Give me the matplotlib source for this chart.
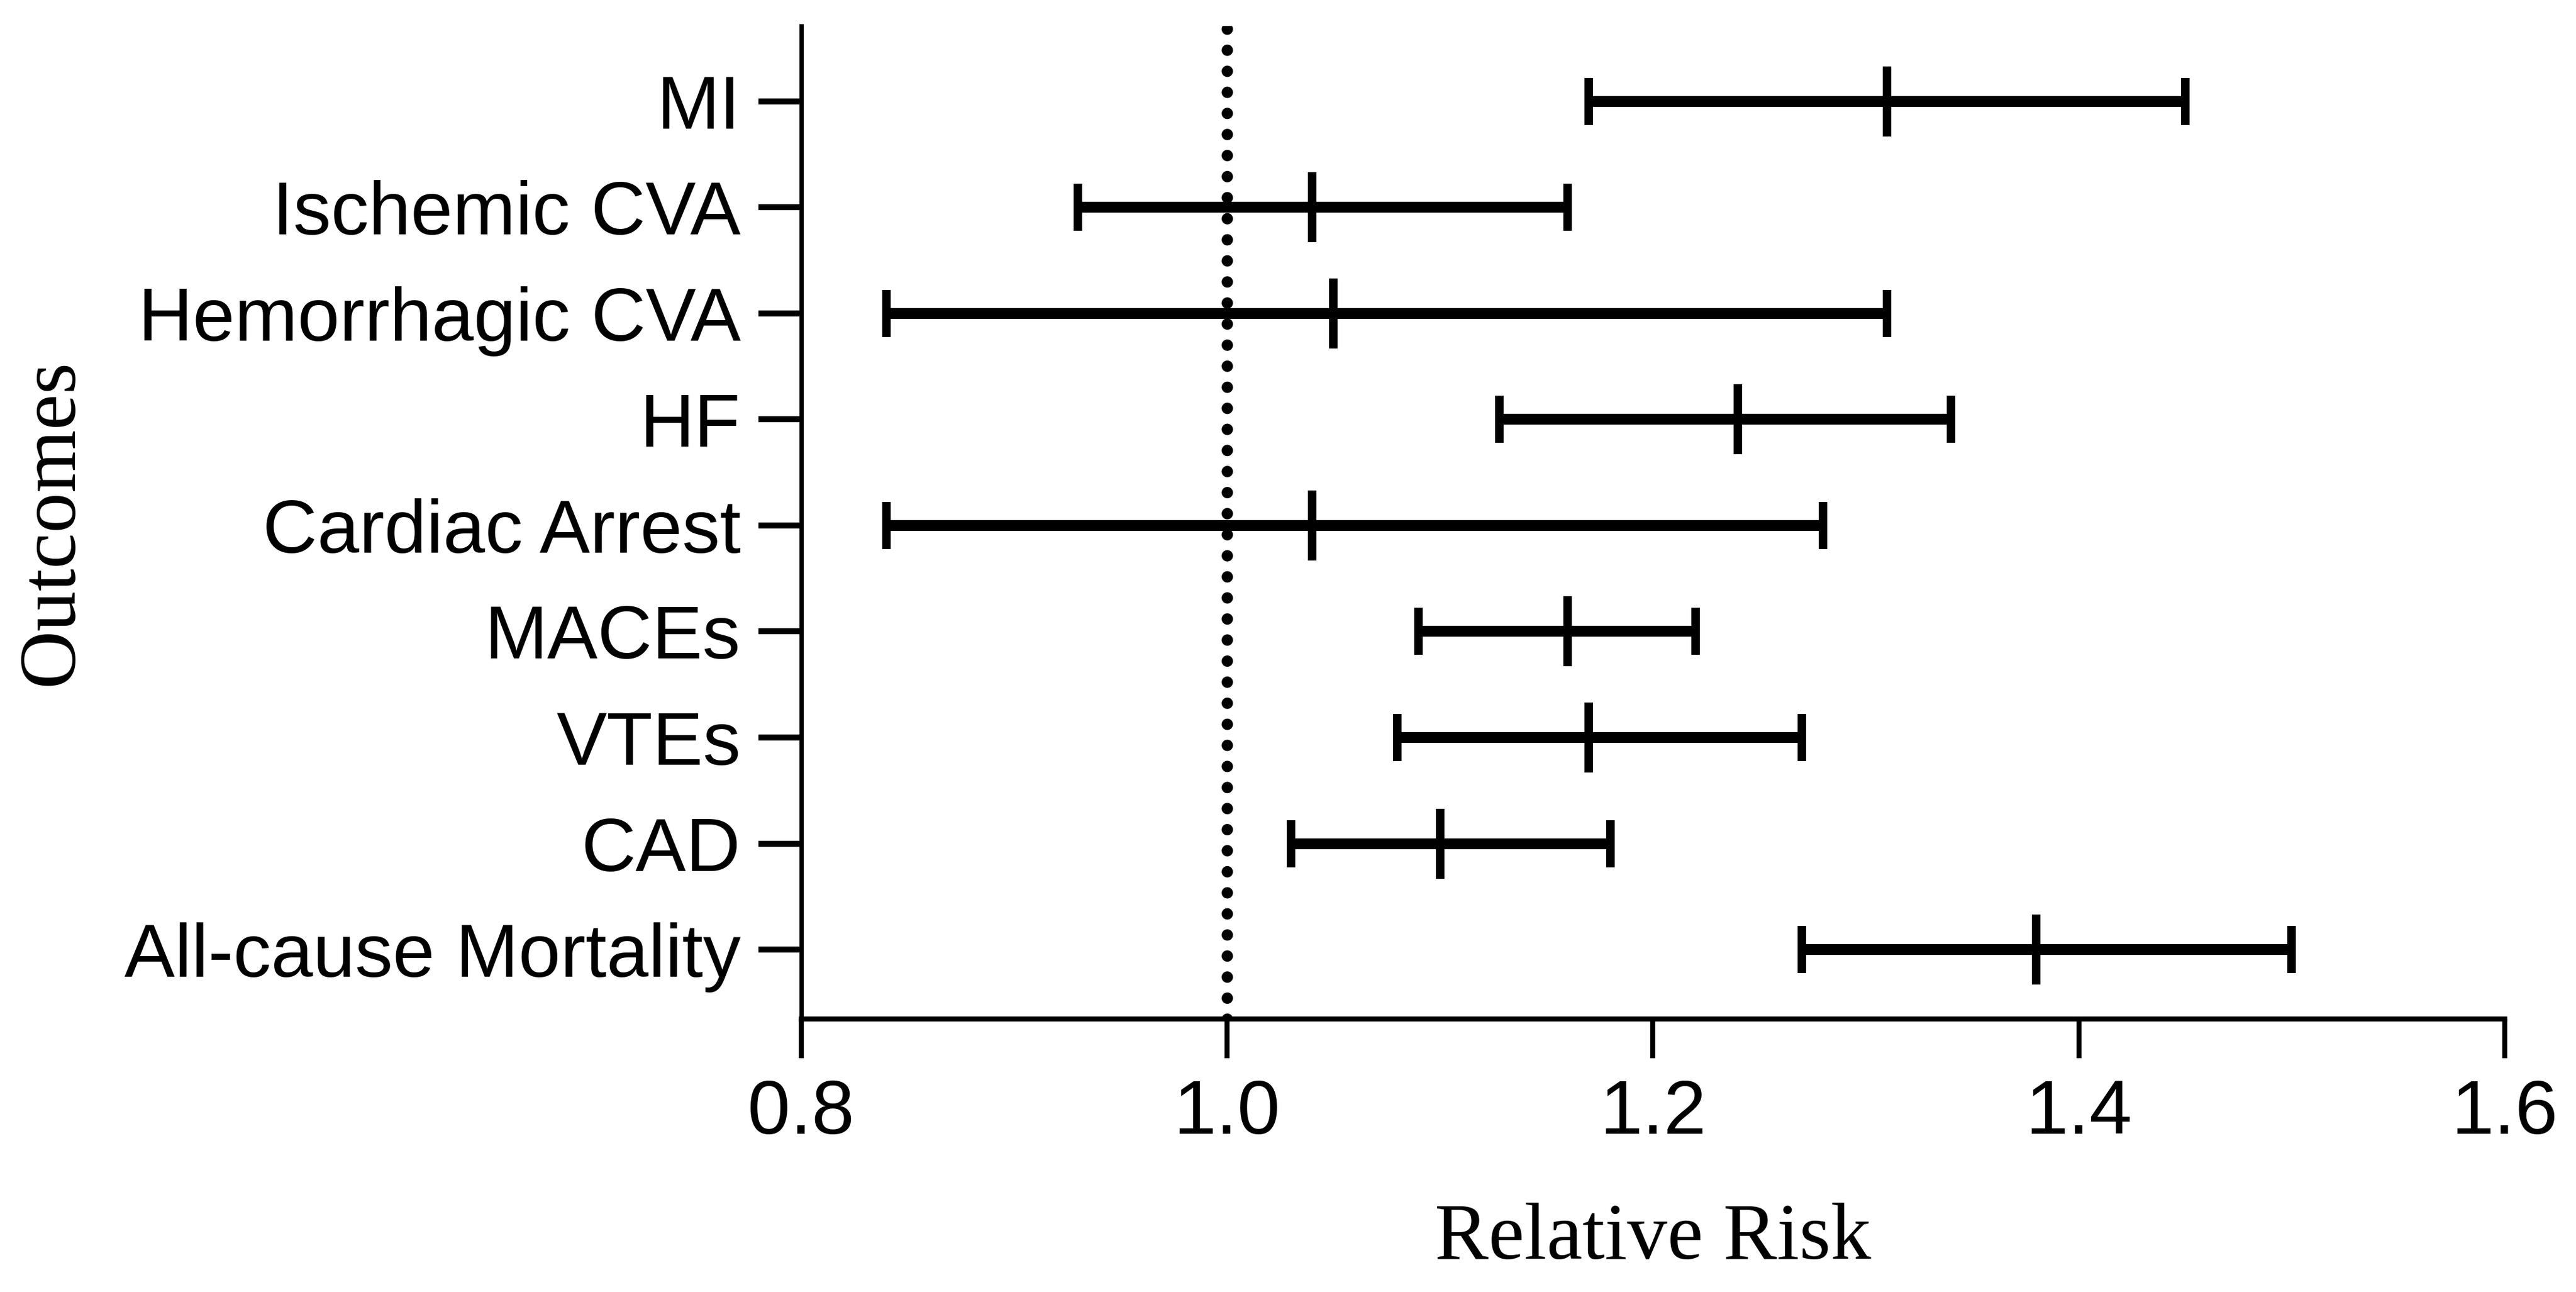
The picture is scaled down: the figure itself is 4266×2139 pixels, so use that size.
import matplotlib.pyplot as plt

# Relative risk with 95% CI per outcome (top to bottom)
outcomes = ['MI', 'Ischemic CVA', 'Hemorrhagic CVA', 'HF', 'Cardiac Arrest',
            'MACEs', 'VTEs', 'CAD', 'All-cause Mortality']
rr = [1.31, 1.04, 1.05, 1.24, 1.04, 1.16, 1.17, 1.10, 1.38]
lower = [1.17, 0.93, 0.84, 1.128, 0.84, 1.09, 1.08, 1.03, 1.27]
upper = [1.45, 1.16, 1.31, 1.34, 1.28, 1.22, 1.27, 1.18, 1.50]
xticks = [0.8, 1.0, 1.2, 1.4, 1.6]

plt.rcParams['font.family'] = ['Liberation Sans', 'DejaVu Sans']

fig = plt.figure(figsize=(4266 / 300, 2139 / 300), dpi=300)
ax = fig.add_axes([0.311, 0.2113, 0.9723 - 0.311, 0.980 - 0.2113])

n = len(outcomes)
ypos = [n - 1 - i for i in range(n)]
err_lo = [r - l for r, l in zip(rr, lower)]
err_hi = [u - r for r, u in zip(rr, upper)]

# reference line at RR = 1
ax.axvline(1.0, color='black', lw=4.5, linestyle=(0, (0.01, 1.85)),
           dash_capstyle='round', zorder=1)

ax.errorbar(rr, ypos, xerr=[err_lo, err_hi], fmt='none', ecolor='black',
            elinewidth=4.3, capsize=9.4, capthick=3.4, zorder=3)
ax.plot(rr, ypos, linestyle='none', marker='|', color='black',
        markersize=28, markeredgewidth=3.4, zorder=4)

ax.set_xlim(0.8, 1.6)
ax.set_ylim(-0.655, n - 1 + 0.712)
ax.set_xticks(xticks)
ax.set_xticklabels([f'{t:.1f}' for t in xticks])
ax.set_yticks(ypos)
ax.set_yticklabels(outcomes)

ax.spines['top'].set_visible(False)
ax.spines['right'].set_visible(False)
ax.spines['left'].set_linewidth(1.7)
ax.spines['bottom'].set_linewidth(2.0)
ax.tick_params(axis='y', length=17, width=2.4, pad=7, labelsize=30)
ax.tick_params(axis='x', length=15.6, width=2.0, pad=8, labelsize=30.5)

ax.set_xlabel('Relative Risk', family='Liberation Serif', fontsize=32, labelpad=21)
ax.set_ylabel('Outcomes', family='Liberation Serif', fontsize=32, labelpad=14)

plt.savefig('out.png', dpi=300)
